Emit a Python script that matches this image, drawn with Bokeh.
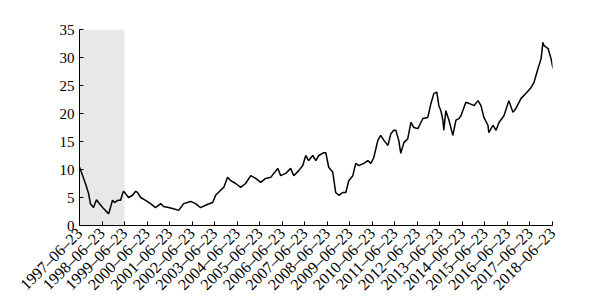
import math
import numpy as np
from bokeh.plotting import figure
from bokeh.models import FixedTicker, Range1d
from bokeh.embed import file_html
from bokeh.resources import INLINE

tick_labels = ["%d–06–23" % y for y in range(1997, 2019)]
base_year = 1997.476  # 1997-06-23 as decimal year

years = [
    1997.48, 1997.74, 1997.88, 1997.96, 1998.10, 1998.23, 1998.32, 1998.50, 1998.72, 1998.77,
    1998.85, 1998.94, 1999.03, 1999.17, 1999.30, 1999.39, 1999.43, 1999.52, 1999.65, 1999.83,
    1999.97, 2000.05, 2000.19, 2000.41, 2000.63, 2000.85, 2001.08, 2001.21, 2001.43, 2001.65,
    2001.88, 2002.10, 2002.41, 2002.63, 2002.85, 2003.17, 2003.39, 2003.52, 2003.74, 2003.88,
    2004.05, 2004.19, 2004.41, 2004.63, 2004.85, 2005.08, 2005.30, 2005.52, 2005.74, 2005.97,
    2006.10, 2006.28, 2006.41, 2006.63, 2006.85, 2006.99, 2007.21, 2007.39, 2007.52, 2007.65,
    2007.83, 2007.97, 2008.10, 2008.32, 2008.41, 2008.54, 2008.72, 2008.85, 2008.99, 2009.17,
    2009.30, 2009.43, 2009.61, 2009.74, 2009.88, 2010.10, 2010.28, 2010.41, 2010.54, 2010.72,
    2010.85, 2010.99, 2011.17, 2011.30, 2011.43, 2011.52, 2011.65, 2011.74, 2011.88, 2012.05,
    2012.19, 2012.32, 2012.50, 2012.72, 2012.94, 2013.08, 2013.21, 2013.34, 2013.43, 2013.52,
    2013.61, 2013.65, 2013.74, 2013.88, 2014.05, 2014.19, 2014.32, 2014.41, 2014.63, 2014.77,
    2014.99, 2015.17, 2015.30, 2015.43, 2015.61, 2015.65, 2015.83, 2015.97, 2016.10, 2016.32,
    2016.54, 2016.72, 2016.85, 2017.08, 2017.30, 2017.52, 2017.65, 2017.83, 2017.97, 2018.05,
    2018.10, 2018.28, 2018.41, 2018.50,
]
prices = [
    10.4, 7.5, 5.7, 3.9, 3.2, 4.6, 4.1, 3.2, 2.3, 2.1,
    3.2, 4.5, 4.1, 4.5, 4.5, 5.7, 6.1, 5.7, 5.0, 5.4,
    6.1, 5.9, 5.0, 4.5, 3.9, 3.2, 3.9, 3.4, 3.2, 3.0,
    2.7, 3.9, 4.3, 3.9, 3.2, 3.8, 4.1, 5.4, 6.3, 6.8,
    8.6, 8.0, 7.5, 6.8, 7.5, 8.9, 8.4, 7.7, 8.4, 8.6,
    9.3, 10.2, 8.9, 9.3, 10.2, 8.9, 9.8, 10.7, 12.5, 11.6,
    12.5, 11.6, 12.5, 13.0, 13.0, 10.4, 9.5, 5.9, 5.4, 5.9,
    5.9, 8.0, 8.9, 11.1, 10.7, 11.1, 11.6, 11.1, 12.1, 15.2,
    16.1, 15.2, 14.3, 16.4, 17.0, 17.0, 15.2, 12.9, 14.8, 15.5,
    18.4, 17.5, 17.3, 19.1, 19.3, 21.8, 23.6, 23.8, 21.4, 20.5,
    18.8, 17.0, 20.5, 18.8, 16.1, 18.8, 19.1, 19.6, 22.0, 21.8,
    21.4, 22.3, 21.4, 19.3, 17.9, 16.6, 17.9, 17.0, 18.4, 19.6,
    22.3, 20.2, 20.9, 22.7, 23.6, 24.6, 25.5, 28.0, 29.8, 32.7,
    32.1, 31.6, 29.8, 28.0,
]
shade_start_label = "1997–06–23"
shade_end_label = "1999–06–23"

x = np.array(years) - base_year
ticks = list(range(len(tick_labels)))

p = figure(width=603, height=305, frame_width=473, frame_height=196,
           output_backend="svg", toolbar_location=None,
           x_range=Range1d(0, len(tick_labels) - 1), y_range=Range1d(0, 35),
           min_border_left=79, min_border_right=51, min_border_top=29, min_border_bottom=80)
p.outline_line_color = None
p.grid.visible = False
p.background_fill_color = "white"
p.border_fill_color = "white"

p.quad(left=tick_labels.index(shade_start_label), right=tick_labels.index(shade_end_label),
       bottom=0, top=35, fill_color="#e8e8e8", line_color=None)
p.line(x, prices, line_color="black", line_width=1.5)

font = "Liberation Serif"
xa = p.xaxis[0]
xa.ticker = FixedTicker(ticks=ticks)
xa.major_label_overrides = {i: lab for i, lab in enumerate(tick_labels)}
xa.major_label_orientation = math.pi / 4
xa.major_tick_in = 4
xa.major_tick_out = 0
xa.minor_tick_line_color = None
xa.major_label_text_font = font
xa.major_label_text_font_size = "16px"
xa.major_label_text_color = "black"
xa.major_label_standoff = 5
xa.axis_line_color = "black"

ya = p.yaxis[0]
ya.ticker = FixedTicker(ticks=[0, 5, 10, 15, 20, 25, 30, 35])
ya.major_tick_in = 4
ya.major_tick_out = 0
ya.minor_tick_line_color = None
ya.major_label_text_font = font
ya.major_label_text_font_size = "15px"
ya.major_label_text_color = "black"
ya.major_label_standoff = 5
ya.axis_line_color = "black"

open("out.html", "w").write(file_html(p, INLINE))
